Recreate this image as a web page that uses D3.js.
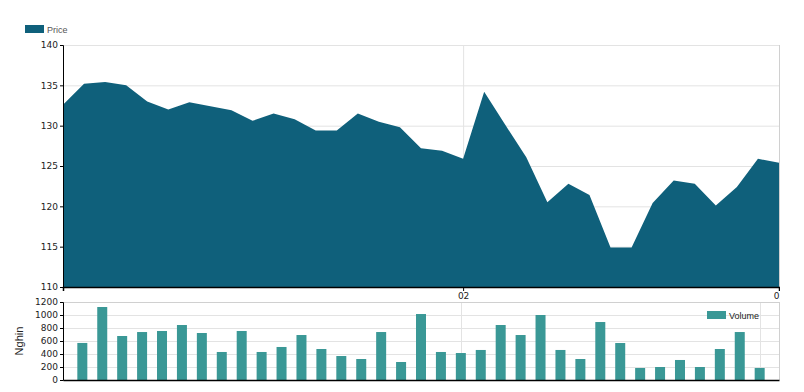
<!DOCTYPE html>
<html>
<head>
<meta charset="utf-8">
<script src="https://cdn.jsdelivr.net/npm/d3@7"></script>
<style>
  body { margin: 0; background: #fff; }
  #chart_area svg { display: block; overflow: hidden; }
  .tick text { font-family: 'DejaVu Sans', Verdana, sans-serif; font-size: 9px; fill: #222; }
</style>
</head>
<body>
<div id="chart_area"></div>
<script>
// trading days shown on the chart
const dates = [
  '2021-01-05', '2021-01-06', '2021-01-07', '2021-01-08', '2021-01-11',
  '2021-01-12', '2021-01-13', '2021-01-14', '2021-01-15', '2021-01-18',
  '2021-01-19', '2021-01-20', '2021-01-21', '2021-01-22', '2021-01-25',
  '2021-01-26', '2021-01-27', '2021-01-28', '2021-01-29', '2021-02-01',
  '2021-02-02', '2021-02-03', '2021-02-04', '2021-02-05', '2021-02-08',
  '2021-02-09', '2021-02-17', '2021-02-18', '2021-02-19', '2021-02-22',
  '2021-02-23', '2021-02-24', '2021-02-25', '2021-02-26', '2021-03-01'
];
const prices = [
  132.6, 135.2, 135.4, 135.0, 133.0, 132.0, 132.9, 132.4, 131.9, 130.6,
  131.5, 130.8, 129.4, 129.4, 131.5, 130.5, 129.8, 127.2, 126.9, 125.9,
  134.2, 130.1, 126.1, 120.5, 122.8, 121.4, 114.9, 114.9, 120.4, 123.2,
  122.8, 120.1, 122.4, 125.9, 125.4
];
const volumes = [
  570, 1123, 677, 738, 754, 846, 723, 431, 754, 431,
  508, 692, 477, 369, 323, 738, 277, 1015, 431, 415,
  462, 846, 692, 1000, 462, 323, 892, 569, 185, 200,
  308, 200, 477, 738, 185
];
const tickDates = ['2021-02-01', '2021-03-01'];
const tickLabels = ['02', '03'];
const priceTicks = [110, 115, 120, 125, 130, 135, 140];
const volumeTicks = [0, 200, 400, 600, 800, 1000, 1200];

const areaColor = '#0f607b';
const barColor = '#3a9896';
const gridColor = '#e3e3e3';
const left = 63;
const right = 779;

// svg is 780 wide, so the last month label is clipped at the edge like the original
const svg = d3
  .select('#chart_area')
  .append('svg')
  .attr('width', 780)
  .attr('height', 392);

function drawPrice() {
  const top = 45;
  const bottom = 287;
  const x = d3.scalePoint().domain(dates).range([left, right]);
  const y = d3.scaleLinear().domain([110, 140]).range([bottom, top]);
  const g = svg.append('g');

  // grid
  g.selectAll('.hgrid')
    .data(priceTicks.slice(1))
    .join('line')
    .attr('x1', left)
    .attr('x2', right)
    .attr('y1', (d) => y(d) + 0.5)
    .attr('y2', (d) => y(d) + 0.5)
    .attr('stroke', gridColor);
  g.selectAll('.vgrid')
    .data(tickDates)
    .join('line')
    .attr('x1', (d) => x(d) + 0.5)
    .attr('x2', (d) => x(d) + 0.5)
    .attr('y1', top)
    .attr('y2', bottom)
    .attr('stroke', gridColor);
  g.append('line')
    .attr('x1', right + 0.5)
    .attr('x2', right + 0.5)
    .attr('y1', top)
    .attr('y2', bottom)
    .attr('stroke', '#d0d0d0');

  const area = d3
    .area()
    .x((d, i) => x(dates[i]))
    .y0(bottom)
    .y1((d) => y(d));
  g.append('path').datum(prices).attr('d', area).attr('fill', areaColor);

  g.append('g')
    .attr('transform', 'translate(' + left + ',0)')
    .call(d3.axisLeft(y).tickValues(priceTicks).tickSize(3).tickPadding(2))
    .call((a) => a.select('.domain').attr('stroke', '#000'));
  g.append('g')
    .attr('transform', 'translate(0,' + bottom + ')')
    .call(
      d3
        .axisBottom(x)
        .tickValues(tickDates)
        .tickSize(4)
        .tickPadding(2)
        .tickFormat((d) => tickLabels[tickDates.indexOf(d)])
    )
    .call((a) => a.select('.domain').attr('stroke', '#000').attr('stroke-width', 1.5));
}

function drawVolume() {
  const top = 302;
  const bottom = 380;
  const x = d3.scalePoint().domain(dates).range([left, right]).padding(0.97);
  const y = d3.scaleLinear().domain([0, 1200]).range([bottom, top]);
  const g = svg.append('g');

  g.selectAll('.hgrid')
    .data(volumeTicks.slice(1))
    .join('line')
    .attr('x1', left)
    .attr('x2', right)
    .attr('y1', (d) => Math.round(y(d)) + 0.5)
    .attr('y2', (d) => Math.round(y(d)) + 0.5)
    .attr('stroke', gridColor);
  g.selectAll('.vgrid')
    .data(tickDates)
    .join('line')
    .attr('x1', (d) => Math.round(x(d)) + 0.5)
    .attr('x2', (d) => Math.round(x(d)) + 0.5)
    .attr('y1', top)
    .attr('y2', bottom)
    .attr('stroke', gridColor);
  g.append('line')
    .attr('x1', right + 0.5)
    .attr('x2', right + 0.5)
    .attr('y1', top)
    .attr('y2', bottom)
    .attr('stroke', '#d0d0d0');
  g.append('line')
    .attr('x1', left)
    .attr('x2', right)
    .attr('y1', top + 0.5)
    .attr('y2', top + 0.5)
    .attr('stroke', '#d0d0d0');

  g.selectAll('.bar')
    .data(volumes)
    .join('rect')
    .attr('x', (d, i) => x(dates[i]) - 5)
    .attr('y', (d) => y(d))
    .attr('width', 10)
    .attr('height', (d) => bottom - y(d))
    .attr('fill', barColor);

  g.append('g')
    .attr('transform', 'translate(' + left + ',0)')
    .call(
      d3
        .axisLeft(y)
        .tickValues(volumeTicks)
        .tickSize(3)
        .tickPadding(2)
        .tickFormat(d3.format('d'))
    )
    .call((a) => a.select('.domain').attr('stroke', '#000'));
  g.append('g')
    .attr('transform', 'translate(0,' + bottom + ')')
    .call(d3.axisBottom(x).tickValues([]).tickSize(0))
    .call((a) => a.select('.domain').attr('stroke', '#000').attr('stroke-width', 1.5));

  g.append('text')
    .attr('transform', 'translate(23,341) rotate(-90)')
    .attr('text-anchor', 'middle')
    .attr('font-family', "'Liberation Sans', Arial, sans-serif")
    .attr('font-size', 11)
    .attr('fill', '#222')
    .text('Nghin');
}

function drawLegend(_x, _y, _label, _color, _textColor) {
  const g = svg.append('g').attr('transform', 'translate(' + _x + ',' + _y + ')');
  g.append('rect').attr('width', 19).attr('height', 8).attr('fill', _color);
  g.append('text')
    .attr('x', 22)
    .attr('y', 7.5)
    .attr('font-family', "'Liberation Sans', Arial, sans-serif")
    .attr('font-size', 9)
    .attr('fill', _textColor)
    .text(_label);
}

drawPrice();
drawVolume();
drawLegend(25, 25, 'Price', areaColor, '#555');
drawLegend(707, 311, 'Volume', barColor, '#222');
</script>
</body>
</html>
